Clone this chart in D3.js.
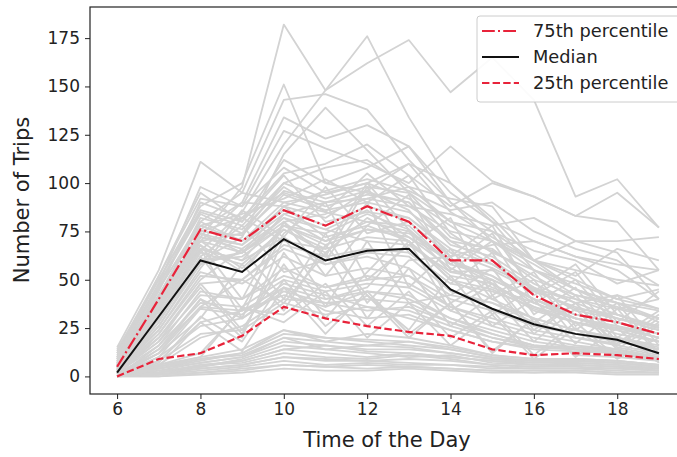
<!DOCTYPE html>
<html>
<head>
<meta charset="utf-8">
<script src="https://cdn.jsdelivr.net/npm/d3@7"></script>
<style>
  html, body { margin: 0; padding: 0; background: #fff; overflow: hidden; }
  svg { display: block; font-family: "DejaVu Sans", sans-serif; }
</style>
</head>
<body>
<svg id="chart" width="677" height="457"></svg>
<script>
// ---------------- data ----------------
const hours = [6, 7, 8, 9, 10, 11, 12, 13, 14, 15, 16, 17, 18, 19];
const xTicks = [6, 8, 10, 12, 14, 16, 18];
const yTicks = [0, 25, 50, 75, 100, 125, 150, 175];

const p75 = [5, 40, 76, 70, 86, 78, 88, 80, 60, 60, 42, 32, 28, 22];
const median = [2, 31, 60, 54, 71, 60, 65, 66, 45, 35, 27, 22, 19, 12];
const p25 = [0, 9, 12, 21, 36, 30, 26, 23, 21, 14, 11, 12, 11, 9];

const legendLabels = ["75th percentile", "Median", "25th percentile"];
const xLabel = "Time of the Day";
const yLabel = "Number of Trips";

// individual daily profiles (grey)
const profiles = [
  [10,42,72,98,182,148,162,174,147,165,143,93,102,77],
  [8,35,65,85,120,148,176,134,100,82,60,45,38,30],
  [12,50,88,100,151,100,95,90,70,58,45,40,32,25],
  [6,45,80,95,143,146,138,112,90,75,60,50,40,35],
  [5,38,70,90,134,123,130,119,95,80,55,45,38,28],
  [15,55,111,95,90,85,80,75,60,50,40,30,25,20],
  [9,48,98,88,127,118,110,100,119,101,93,83,95,77],
  [4,30,60,72,115,139,117,95,80,70,60,70,70,72],
  [7,40,75,82,105,110,120,104,88,100,93,83,80,55],
  [10,52,95,80,112,100,108,119,90,70,55,48,40,45],
  [11,48,85,78,100,92,98,95,72,65,52,40,35,30],
  [8,44,90,82,95,88,94,90,68,62,48,38,30,26],
  [6,40,82,76,98,85,105,88,75,70,58,45,35,40],
  [13,52,92,88,108,95,100,110,85,72,60,55,50,47],
  [9,46,78,84,92,102,90,85,70,66,50,42,38,34],
  [5,38,75,73,96,90,92,98,80,75,65,60,48,55],
  [14,50,86,80,104,80,85,82,66,58,45,35,32,25],
  [7,42,80,70,90,94,100,92,78,64,55,42,36,30],
  [10,36,76,90,88,82,96,86,62,68,70,62,55,40],
  [12,47,84,74,94,86,90,104,74,60,46,38,42,35],
  [4,32,68,40,80,52,78,94,55,70,38,50,26,20],
  [3,30,64,58,76,66,72,70,50,45,35,28,24,18],
  [6,36,72,66,82,70,80,78,58,52,40,32,28,22],
  [2,28,62,35,74,90,50,68,82,42,54,26,42,16],
  [5,34,70,64,78,74,84,76,54,55,44,36,30,24],
  [7,38,74,68,84,76,86,72,60,48,36,28,25,20],
  [3,26,58,86,72,98,74,80,62,78,42,54,28,44],
  [8,40,66,30,80,62,98,64,48,64,32,46,20,34],
  [4,30,60,62,78,70,76,72,56,46,38,30,24,18],
  [6,34,70,56,76,64,82,70,50,40,30,24,20,15],
  [2,24,56,82,70,66,100,76,58,74,44,58,32,26],
  [5,36,74,64,88,72,78,70,52,48,34,28,22,18],
  [9,42,78,70,86,78,88,82,64,56,46,34,30,24],
  [3,28,62,78,54,60,90,46,66,40,50,24,38,12],
  [1,22,52,50,68,62,66,64,48,44,36,30,26,20],
  [6,32,66,60,72,58,64,62,44,38,28,22,20,16],
  [4,30,58,64,82,76,70,68,54,50,40,32,28,22],
  [7,36,68,54,78,68,76,74,60,52,38,30,26,22],
  [1,20,48,24,58,30,54,76,38,50,24,38,16,30],
  [2,18,42,40,52,46,50,52,36,28,22,18,14,10],
  [0,16,38,36,50,44,48,46,34,26,20,16,14,9],
  [3,22,50,66,40,74,38,60,62,32,46,20,17,32],
  [1,14,36,34,46,40,44,42,30,24,18,15,13,9],
  [2,12,40,30,44,38,40,38,28,22,16,14,12,8],
  [0,10,35,32,48,42,36,34,26,20,15,14,12,8],
  [4,24,54,48,62,52,56,52,40,34,26,22,18,14],
  [1,12,30,58,34,68,42,24,52,26,40,17,35,11],
  [0,8,28,34,42,36,44,40,30,22,16,14,13,9],
  [2,16,44,40,56,46,52,48,36,30,24,20,16,12],
  [0,6,20,26,40,38,34,36,28,20,16,15,14,10],
  [3,20,46,22,64,36,70,38,42,56,28,42,18,14],
  [1,10,26,30,46,34,30,32,24,18,14,13,12,9],
  [0,12,36,50,38,64,30,56,26,42,18,35,14,28],
  [2,18,48,50,66,58,62,56,42,38,30,24,20,14],
  [1,8,22,24,38,32,36,30,24,18,15,14,12,8],
  [0,14,40,20,72,40,46,70,34,48,22,38,15,11],
  [0,4,8,12,22,20,18,16,14,10,8,8,7,5],
  [0,2,6,8,14,12,10,12,10,8,6,6,5,4],
  [0,6,10,36,28,44,20,38,16,32,9,25,9,20],
  [0,3,7,10,18,16,14,14,12,9,7,8,7,5],
  [0,1,4,6,10,8,8,9,8,6,5,5,4,3],
  [1,5,10,14,24,18,22,20,16,11,9,9,8,6],
  [0,2,5,9,16,14,12,10,11,7,6,7,6,4],
  [0,7,31,18,50,26,42,20,38,12,30,10,25,7],
  [0,0,2,4,6,5,6,5,4,3,3,3,2,2],
  [0,4,9,11,20,14,16,18,14,10,8,9,8,6],
  [0,1,3,5,8,6,7,6,6,4,4,4,3,2],
  [0,5,28,13,46,22,44,22,38,13,30,11,10,27],
  [0,2,6,7,12,10,9,11,9,6,5,6,5,3],
  [1,6,12,35,32,48,26,44,20,34,11,28,10,8],
  [0,3,5,8,14,16,13,12,10,8,7,7,6,4],
  [0,0,1,2,4,3,3,4,3,2,2,2,1,1],
  [0,4,7,10,20,18,16,15,12,9,8,8,7,5],
  [0,1,2,3,6,5,4,5,4,3,2,3,2,2],
  [0,2,4,6,10,9,8,7,6,5,4,4,4,3],
  [0,5,9,12,24,20,19,18,15,11,9,9,8,6],
  [3,30,66,60,84,90,96,110,100,80,70,62,58,55],
  [5,34,72,68,88,96,102,96,86,90,75,66,60,47],
  [2,26,60,64,80,84,92,88,84,78,82,70,64,40],
  [6,38,70,74,100,108,112,98,92,88,60,52,66,60]
];

// ---------------- layout ----------------
const svg = d3.select("#chart");
const mLeft = 90, mRight = 686, mTop = 7, mBottom = 394;

const x = d3.scaleLinear().domain([5.35, 19.65]).range([mLeft, mRight]);
const y = d3.scaleLinear().domain([-9.1, 191.1]).range([mBottom, mTop]);

const line = d3.line().x((d, i) => x(hours[i])).y(d => y(d));

const plot = svg.append("g");

plot.selectAll("path.profile")
  .data(profiles)
  .join("path")
  .attr("class", "profile")
  .attr("d", line)
  .attr("fill", "none")
  .attr("stroke", "#d3d3d3")
  .attr("stroke-width", 1.8)
  .attr("stroke-linejoin", "round");

const red = "#e8233a";
const styles = [
  { data: p75, color: red, dash: "12.8,3.2,2,3.2", width: 2.2 },
  { data: median, color: "#111", dash: null, width: 2 },
  { data: p25, color: red, dash: "7.4,3.2", width: 2.2 }
];

plot.selectAll("path.stat")
  .data(styles)
  .join("path")
  .attr("class", "stat")
  .attr("d", s => line(s.data))
  .attr("fill", "none")
  .attr("stroke", s => s.color)
  .attr("stroke-width", s => s.width)
  .attr("stroke-dasharray", s => s.dash);

// axes
const xAxis = d3.axisBottom(x).tickValues(xTicks).tickSize(5).tickPadding(4);
const yAxis = d3.axisLeft(y).tickValues(yTicks).tickSize(5).tickPadding(5);

const gx = svg.append("g").attr("transform", `translate(0,${mBottom})`).call(xAxis);
const gy = svg.append("g").attr("transform", `translate(${mLeft},0)`).call(yAxis);
[gx, gy].forEach(g => {
  g.select(".domain").remove();
  g.selectAll("line").attr("stroke", "#222").attr("stroke-width", 1);
  g.selectAll("text").attr("fill", "#222").style("font-size", "17px")
    .style("font-family", "'DejaVu Sans', sans-serif");
});

// frame
svg.append("rect")
  .attr("x", mLeft).attr("y", mTop)
  .attr("width", mRight - mLeft).attr("height", mBottom - mTop)
  .attr("fill", "none").attr("stroke", "#222").attr("stroke-width", 1.2);

// axis labels
svg.append("text")
  .attr("x", 387).attr("y", 447)
  .attr("text-anchor", "middle")
  .attr("fill", "#222")
  .style("font-size", "21px")
  .text(xLabel);

svg.append("text")
  .attr("transform", `translate(29,200) rotate(-90)`)
  .attr("text-anchor", "middle")
  .attr("fill", "#222")
  .style("font-size", "21px")
  .text(yLabel);

// legend
const lg = svg.append("g");
lg.append("rect")
  .attr("x", 477).attr("y", 16).attr("width", 205).attr("height", 86)
  .attr("rx", 3).attr("fill", "#fff").attr("fill-opacity", 0.9)
  .attr("stroke", "#ccc").attr("stroke-width", 1);

const rows = lg.selectAll("g.row")
  .data(styles)
  .join("g")
  .attr("class", "row")
  .attr("transform", (d, i) => `translate(0,${31 + i * 26})`);

rows.append("line")
  .attr("x1", 482).attr("x2", 519).attr("y1", 0).attr("y2", 0)
  .attr("stroke", d => d.color)
  .attr("stroke-width", d => d.width)
  .attr("stroke-dasharray", d => d.dash);

rows.append("text")
  .attr("x", 533).attr("y", 0).attr("dy", "0.35em")
  .attr("fill", "#222")
  .style("font-size", "17.8px")
  .text((d, i) => legendLabels[i]);
</script>
</body>
</html>
